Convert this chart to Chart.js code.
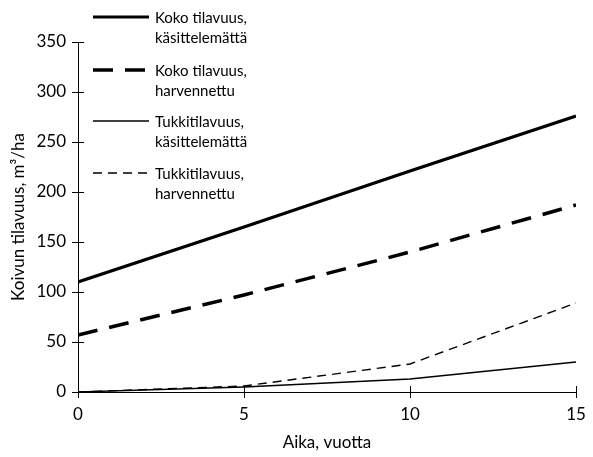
<!DOCTYPE html>
<html>
<head>
<meta charset="utf-8">
<script src="https://cdn.jsdelivr.net/npm/chart.js@4/dist/chart.umd.min.js"></script>
<style>
  html, body { margin: 0; padding: 0; background: #fff; }
  #wrap { width: 593px; height: 457px; }
</style>
</head>
<body>
<div id="wrap"><canvas id="chart"></canvas></div>
<script>
const years = [0, 5, 10, 15];
const kokoKasittelematta = [110, 165, 221, 276];
const kokoHarvennettu = [57, 97, 140, 187];
const tukkiKasittelematta = [0, 5, 13, 30];
const tukkiHarvennettu = [0, 6, 28, 89];
const legendTexts = [
    ['Koko tilavuus,', 'käsittelemättä'],
    ['Koko tilavuus,', 'harvennettu'],
    ['Tukkitilavuus,', 'käsittelemättä'],
    ['Tukkitilavuus,', 'harvennettu']
];

const FONT = 'Lato, "DejaVu Sans", sans-serif';

function pts(values) {
    return values.map((v, i) => ({ x: years[i], y: v }));
}

// oma selite ja akselin sisäpuoliset tikit
const extras = {
    id: 'extras',
    afterDraw(chart) {
        const ctx = chart.ctx;
        const xs = chart.scales.x, ys = chart.scales.y;
        ctx.save();
        ctx.strokeStyle = '#000';
        ctx.lineWidth = 1;
        ctx.setLineDash([]);
        ys.ticks.forEach(t => {
            const py = Math.round(ys.getPixelForValue(t.value)) + 0.5;
            ctx.beginPath();
            ctx.moveTo(xs.left, py);
            ctx.lineTo(xs.left + 6, py);
            ctx.stroke();
        });
        xs.ticks.forEach(t => {
            const px = Math.round(xs.getPixelForValue(t.value)) + 0.5;
            ctx.beginPath();
            ctx.moveTo(px, ys.bottom);
            ctx.lineTo(px, ys.bottom - 6);
            ctx.stroke();
        });

        const rows = [17, 70, 121, 173];
        chart.data.datasets.forEach((ds, i) => {
            const y = rows[i];
            ctx.strokeStyle = '#000';
            ctx.lineWidth = ds.borderWidth;
            ctx.setLineDash(ds.borderDash || []);
            ctx.beginPath();
            ctx.moveTo(93, y);
            ctx.lineTo(149, y);
            ctx.stroke();
            ctx.setLineDash([]);
            ctx.fillStyle = '#000';
            ctx.font = '15px ' + FONT;
            ctx.textBaseline = 'middle';
            ctx.fillText(legendTexts[i][0], 155, y + 1);
            ctx.fillText(legendTexts[i][1], 155, y + 21);
        });
        ctx.restore();
    }
};

new Chart(document.getElementById('chart'), {
    type: 'line',
    data: {
        datasets: [
            { label: 'Koko tilavuus, käsittelemättä', data: pts(kokoKasittelematta), borderColor: '#000', borderWidth: 3.2 },
            { label: 'Koko tilavuus, harvennettu', data: pts(kokoHarvennettu), borderColor: '#000', borderWidth: 3.5, borderDash: [20, 12] },
            { label: 'Tukkitilavuus, käsittelemättä', data: pts(tukkiKasittelematta), borderColor: '#000', borderWidth: 1.4 },
            { label: 'Tukkitilavuus, harvennettu', data: pts(tukkiHarvennettu), borderColor: '#000', borderWidth: 1.4, borderDash: [9, 6] }
        ]
    },
    options: {
        responsive: true,
        maintainAspectRatio: false,
        animation: false,
        elements: { point: { radius: 0 }, line: { tension: 0 } },
        layout: { padding: { top: 42, right: 17, left: 4, bottom: 0 } },
        plugins: { legend: { display: false }, tooltip: { enabled: false } },
        scales: {
            x: {
                type: 'linear',
                min: 0, max: 15,
                ticks: { stepSize: 5, color: '#000', font: { family: FONT, size: 17 }, padding: 6 },
                grid: { drawOnChartArea: false, color: '#000', tickLength: 6 },
                border: { color: '#000', width: 1 },
                title: { display: true, text: 'Aika, vuotta', color: '#000', font: { family: FONT, size: 17 }, padding: { top: 8 } },
                afterFit(s) { s.height = 65; }
            },
            y: {
                min: 0, max: 350,
                ticks: { stepSize: 50, color: '#000', font: { family: FONT, size: 17 }, padding: 6 },
                grid: { drawOnChartArea: false, color: '#000', tickLength: 6 },
                border: { color: '#000', width: 1 },
                title: { display: true, text: 'Koivun tilavuus, m³/ha', color: '#000', font: { family: FONT, size: 17 }, padding: { bottom: 4 } },
                afterFit(s) { s.width = 74; }
            }
        }
    },
    plugins: [extras]
});
</script>
</body>
</html>
